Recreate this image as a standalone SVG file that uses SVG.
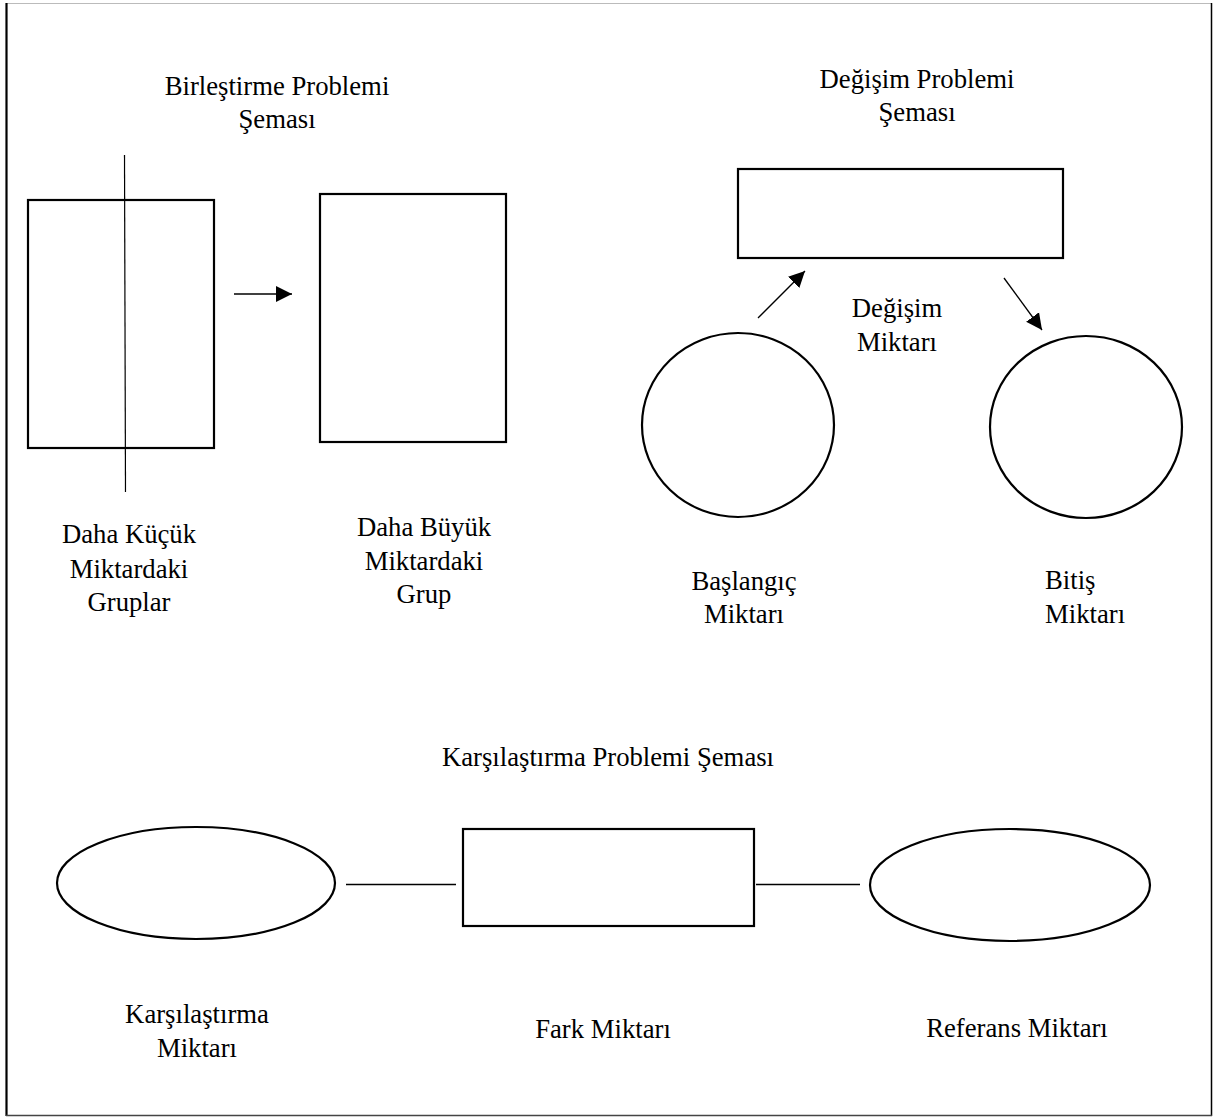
<svg xmlns="http://www.w3.org/2000/svg" width="1213" height="1117" viewBox="0 0 1213 1117">
<style>
  .t { font-family: "Liberation Serif", "Times New Roman", serif; font-size: 26.7px; fill: #000; }
  .c { text-anchor: middle; }
  .shape { fill: none; stroke: #000; stroke-width: 2.2; }
  .conn { fill: none; stroke: #000; stroke-width: 1.3; }
</style>
<defs>
  <marker id="arr" markerUnits="userSpaceOnUse" markerWidth="18" markerHeight="18" viewBox="0 0 18 18" refX="16" refY="9" orient="auto">
    <path d="M0,1 L16,9 L0,17 Z" fill="#000"/>
  </marker>
</defs>
<rect width="1213" height="1117" fill="#fff"/>
<g id="frame">
  <line x1="6" y1="3.5" x2="1212" y2="3.5" stroke="#bbb" stroke-width="1"/>
  <line x1="6.5" y1="3" x2="6.5" y2="1116" stroke="#000" stroke-width="2.2"/>
  <line x1="1211.5" y1="3" x2="1211.5" y2="1116" stroke="#000" stroke-width="1.5"/>
  <line x1="6" y1="1115.5" x2="1212" y2="1115.5" stroke="#444" stroke-width="1.5"/>
</g>

<g id="title-birlestirme">
  <text class="t c" x="277" y="95">Birleştirme Problemi</text>
  <text class="t c" x="277" y="128">Şeması</text>
</g>
<g id="node-kucuk">
  <rect class="shape" x="28" y="200" width="186" height="248"/>
  <text class="t c" x="129" y="543">Daha Küçük</text>
  <text class="t c" x="129" y="578">Miktardaki</text>
  <text class="t c" x="129" y="611">Gruplar</text>
</g>
<g id="node-buyuk">
  <rect class="shape" x="320" y="194" width="186" height="248"/>
  <text class="t c" x="424" y="536">Daha Büyük</text>
  <text class="t c" x="424" y="570">Miktardaki</text>
  <text class="t c" x="424" y="603">Grup</text>
</g>

<g id="title-degisim">
  <text class="t c" x="917" y="88">Değişim Problemi</text>
  <text class="t c" x="917" y="121">Şeması</text>
</g>
<g id="node-degisim">
  <rect class="shape" x="738" y="169" width="325" height="89"/>
  <text class="t c" x="897" y="317">Değişim</text>
  <text class="t c" x="897" y="351">Miktarı</text>
</g>
<g id="node-baslangic">
  <ellipse class="shape" cx="738" cy="425" rx="96" ry="92"/>
  <text class="t c" x="744" y="590">Başlangıç</text>
  <text class="t c" x="744" y="623">Miktarı</text>
</g>
<g id="node-bitis">
  <ellipse class="shape" cx="1086" cy="427" rx="96" ry="91"/>
  <text class="t" x="1045" y="589">Bitiş</text>
  <text class="t" x="1045" y="623">Miktarı</text>
</g>

<g id="title-karsilastirma">
  <text class="t c" x="608" y="766">Karşılaştırma Problemi Şeması</text>
</g>
<g id="node-karsilastirma">
  <ellipse class="shape" cx="196" cy="883" rx="139" ry="56"/>
  <text class="t c" x="197" y="1023">Karşılaştırma</text>
  <text class="t c" x="197" y="1057">Miktarı</text>
</g>
<g id="node-fark">
  <rect class="shape" x="463" y="829" width="291" height="97"/>
  <text class="t c" x="603" y="1038">Fark Miktarı</text>
</g>
<g id="node-referans">
  <ellipse class="shape" cx="1010" cy="885" rx="140" ry="56"/>
  <text class="t c" x="1017" y="1037">Referans Miktarı</text>
</g>

<g id="connectors">
  <line x1="124.5" y1="155" x2="125.5" y2="492" stroke="#000" stroke-width="1.2"/>
  <line class="conn" x1="234" y1="294" x2="292" y2="294" marker-end="url(#arr)"/>
  <line class="conn" x1="758" y1="318" x2="805" y2="271" marker-end="url(#arr)"/>
  <line class="conn" x1="1004" y1="278" x2="1042" y2="330" marker-end="url(#arr)"/>
  <line class="conn" x1="346" y1="884.5" x2="456" y2="884.5"/>
  <line class="conn" x1="756" y1="884.5" x2="860" y2="884.5"/>
</g>
</svg>
